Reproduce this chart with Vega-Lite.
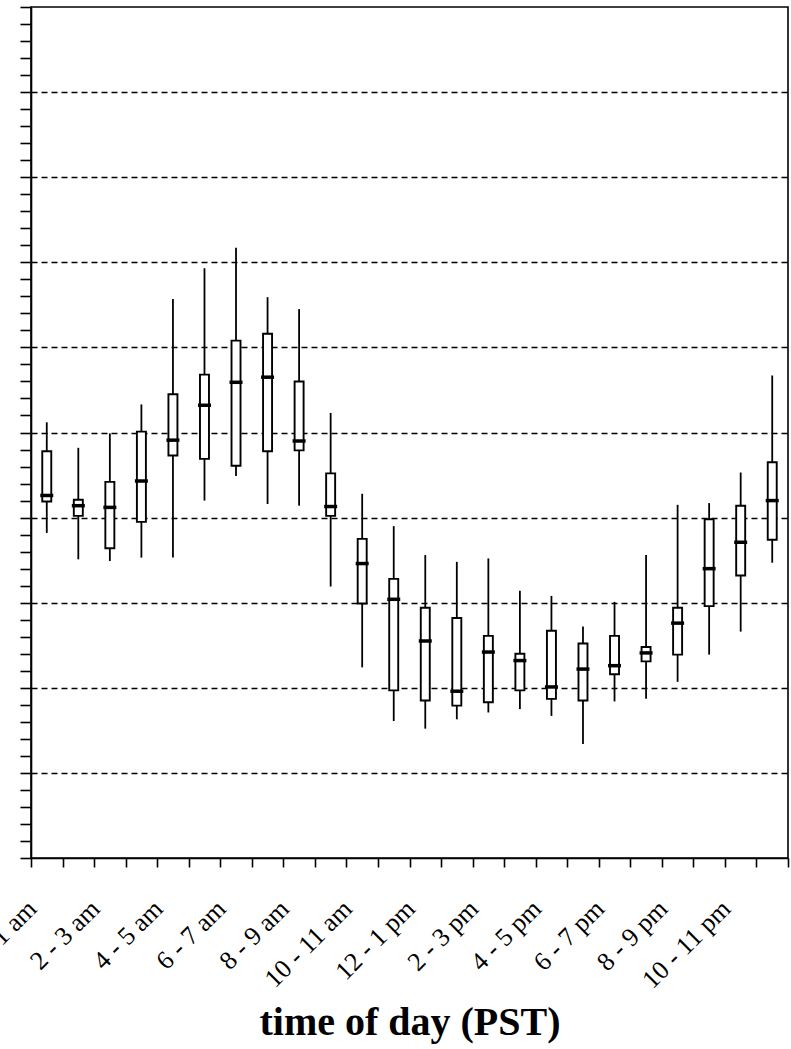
{
  "$schema": "https://vega.github.io/schema/vega-lite/v6.json",
  "autosize": {"type": "none"},
  "padding": {"left": 31, "top": 7, "right": 3, "bottom": 191},
  "width": 757,
  "height": 851,
  "background": "white",
  "config": {
    "view": {"stroke": "#000", "strokeWidth": 1.6},
    "font": "Liberation Serif"
  },
  "data": {
    "values": [
      {"period": "12 - 1 am", "low": 3.82, "q1": 4.19, "median": 4.26, "q3": 4.78, "high": 5.12},
      {"period": "1 - 2 am", "low": 3.51, "q1": 4.02, "median": 4.14, "q3": 4.21, "high": 4.82},
      {"period": "2 - 3 am", "low": 3.49, "q1": 3.64, "median": 4.12, "q3": 4.42, "high": 4.99},
      {"period": "3 - 4 am", "low": 3.53, "q1": 3.95, "median": 4.43, "q3": 5.01, "high": 5.33},
      {"period": "4 - 5 am", "low": 3.53, "q1": 4.73, "median": 4.91, "q3": 5.45, "high": 6.57},
      {"period": "5 - 6 am", "low": 4.20, "q1": 4.69, "median": 5.32, "q3": 5.68, "high": 6.93},
      {"period": "6 - 7 am", "low": 4.49, "q1": 4.61, "median": 5.59, "q3": 6.08, "high": 7.17},
      {"period": "7 - 8 am", "low": 4.16, "q1": 4.78, "median": 5.65, "q3": 6.16, "high": 6.59},
      {"period": "8 - 9 am", "low": 4.14, "q1": 4.79, "median": 4.90, "q3": 5.60, "high": 6.45},
      {"period": "9 - 10 am", "low": 3.19, "q1": 4.02, "median": 4.13, "q3": 4.52, "high": 5.23},
      {"period": "10 - 11 am", "low": 2.24, "q1": 2.99, "median": 3.46, "q3": 3.75, "high": 4.28},
      {"period": "11 am - 12 pm", "low": 1.61, "q1": 1.97, "median": 3.04, "q3": 3.28, "high": 3.90},
      {"period": "12 - 1 pm", "low": 1.52, "q1": 1.85, "median": 2.55, "q3": 2.94, "high": 3.56},
      {"period": "1 - 2 pm", "low": 1.63, "q1": 1.79, "median": 1.96, "q3": 2.82, "high": 3.48},
      {"period": "2 - 3 pm", "low": 1.71, "q1": 1.83, "median": 2.42, "q3": 2.61, "high": 3.52},
      {"period": "3 - 4 pm", "low": 1.75, "q1": 1.97, "median": 2.32, "q3": 2.40, "high": 3.14},
      {"period": "4 - 5 pm", "low": 1.67, "q1": 1.87, "median": 2.01, "q3": 2.67, "high": 3.08},
      {"period": "5 - 6 pm", "low": 1.34, "q1": 1.85, "median": 2.22, "q3": 2.52, "high": 2.72},
      {"period": "6 - 7 pm", "low": 1.84, "q1": 2.16, "median": 2.26, "q3": 2.61, "high": 3.01},
      {"period": "7 - 8 pm", "low": 1.87, "q1": 2.31, "median": 2.41, "q3": 2.48, "high": 3.56},
      {"period": "8 - 9 pm", "low": 2.07, "q1": 2.39, "median": 2.76, "q3": 2.94, "high": 4.15},
      {"period": "9 - 10 pm", "low": 2.39, "q1": 2.96, "median": 3.40, "q3": 3.98, "high": 4.17},
      {"period": "10 - 11 pm", "low": 2.66, "q1": 3.32, "median": 3.71, "q3": 4.14, "high": 4.53},
      {"period": "11 pm - 12 am", "low": 3.47, "q1": 3.74, "median": 4.20, "q3": 4.65, "high": 5.67}
    ]
  },
  "encoding": {
    "x": {
      "field": "period",
      "type": "nominal",
      "sort": null,
      "scale": {"paddingInner": 0, "paddingOuter": 0},
      "axis": {
        "title": "time of day (PST)",
        "titleFont": "Liberation Serif",
        "titleFontSize": 40,
        "titleFontWeight": "bold",
        "titleColor": "#000",
        "titlePadding": 10,
        "labelAngle": -45,
        "labelFont": "Liberation Serif",
        "labelFontSize": 26,
        "labelColor": "#000",
        "labelOverlap": false,
        "labelBound": false,
        "labelPadding": 28,
        "labelOffset": -24,
        "labelExpr": "indexof(['12 - 1 am','2 - 3 am','4 - 5 am','6 - 7 am','8 - 9 am','10 - 11 am','12 - 1 pm','2 - 3 pm','4 - 5 pm','6 - 7 pm','8 - 9 pm','10 - 11 pm'], datum.value) >= 0 ? datum.label : ''",
        "tickBand": "extent",
        "tickSize": 9,
        "tickWidth": 1.6,
        "tickColor": "#000",
        "domainColor": "#000",
        "domainWidth": 1.6,
        "grid": false
      }
    }
  },
  "layer": [
    {
      "mark": {"type": "rule", "color": "#000", "strokeWidth": 1.8},
      "encoding": {
        "y": {
          "field": "low",
          "type": "quantitative",
          "scale": {"domain": [0, 10], "nice": false, "zero": false},
          "axis": {
            "title": null,
            "labels": false,
            "tickCount": 60,
            "values": [0,0.2,0.4,0.6,0.8,1,1.2,1.4,1.6,1.8,2,2.2,2.4,2.6,2.8,3,3.2,3.4,3.6,3.8,4,4.2,4.4,4.6,4.8,5,5.2,5.4,5.6,5.8,6,6.2,6.4,6.6,6.8,7,7.2,7.4,7.6,7.8,8,8.2,8.4,8.6,8.8,9,9.2,9.4,9.6,9.8,10],
            "tickSize": 11,
            "tickWidth": 1.6,
            "tickColor": "#000",
            "domainColor": "#000",
            "domainWidth": 1.6,
            "grid": true,
            "gridColor": "#000",
            "gridWidth": 1.5,
            "gridDash": [6, 4],
            "gridOpacity": {
              "condition": {"test": "abs(datum.value - round(datum.value)) < 0.01 && datum.value > 0.5 && datum.value < 9.5", "value": 1},
              "value": 0
            }
          }
        },
        "y2": {"field": "high"}
      }
    },
    {
      "mark": {"type": "bar", "size": 9, "fill": "#fff", "stroke": "#000", "strokeWidth": 1.9},
      "encoding": {
        "y": {"field": "q1", "type": "quantitative"},
        "y2": {"field": "q3"}
      }
    },
    {
      "mark": {"type": "tick", "size": 13, "thickness": 3.5, "color": "#000", "opacity": 1},
      "encoding": {
        "y": {"field": "median", "type": "quantitative"}
      }
    }
  ]
}
